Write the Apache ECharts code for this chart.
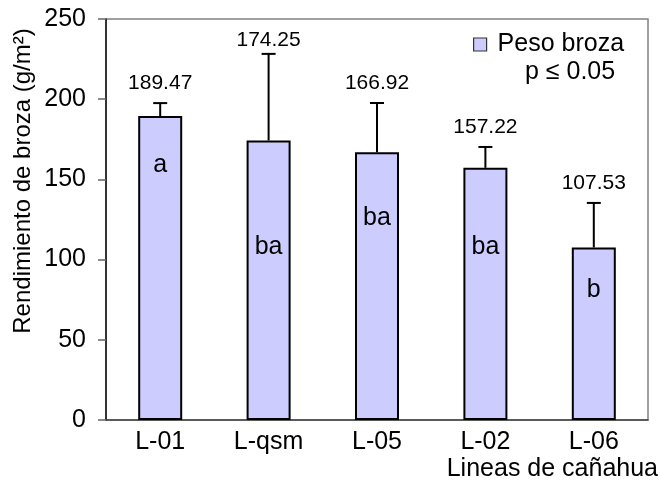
<!DOCTYPE html>
<html>
<head>
<meta charset="utf-8">
<script src="https://cdn.jsdelivr.net/npm/echarts@6/dist/echarts.min.js"></script>
<style>
  html, body { margin: 0; padding: 0; background: #fff; }
  #chart { width: 662px; height: 490px; }
</style>
</head>
<body>
<div id="chart"></div>
<script>
// datos
const lineas = ['L-01', 'L-qsm', 'L-05', 'L-02', 'L-06'];
const pesoBroza = [189.47, 174.25, 166.92, 157.22, 107.53];
const errorSup = [8.1, 54.0, 30.7, 13.0, 27.8];
const letras = ['a', 'ba', 'ba', 'ba', 'b'];
const letraNivel = [159, 108, 126, 108, 81]; // altura (g/m²) donde va la letra
const yTicks = [0, 50, 100, 150, 200, 250];

const FONT = '"Liberation Sans", Arial, sans-serif';

const chart = echarts.init(document.getElementById('chart'));

const option = {
  animation: false,
  backgroundColor: '#fff',
  grid: {
    left: 106, right: 14, top: 19, bottom: 70,
    show: true, borderColor: '#808080', borderWidth: 1.5
  },
  legend: {
    data: ['Peso broza'],
    left: 473, top: 32, padding: 0,
    icon: 'rect', itemWidth: 13, itemHeight: 13,
    itemStyle: { borderColor: '#333', borderWidth: 1.2 },
    textStyle: { fontFamily: FONT, fontSize: 25, color: '#000', padding: [0, 0, 0, 6] }
  },
  xAxis: {
    type: 'category',
    data: lineas,
    axisLine: { lineStyle: { color: '#444', width: 1.5 } },
    axisTick: { length: 7, lineStyle: { color: '#666', width: 1.5 } },
    axisLabel: { fontFamily: FONT, fontSize: 25, color: '#000', margin: 10 }
  },
  yAxis: {
    type: 'value',
    min: yTicks[0], max: yTicks[yTicks.length - 1], interval: 50,
    axisLine: { show: true, lineStyle: { color: '#111', width: 1.5 } },
    axisTick: { show: true, length: 8, lineStyle: { color: '#666', width: 1.5 } },
    axisLabel: { fontFamily: FONT, fontSize: 25, color: '#000', margin: 20 },
    splitLine: { show: false }
  },
  graphic: [
    {
      type: 'text', x: 23, y: 181, rotation: Math.PI / 2,
      style: { text: 'Rendimiento de broza (g/m²)', font: '24px ' + FONT, fill: '#000', textAlign: 'center', textVerticalAlign: 'middle' }
    },
    {
      type: 'text', x: 658, y: 469,
      style: { text: 'Lineas de cañahua', font: '25px ' + FONT, fill: '#000', textAlign: 'right', textVerticalAlign: 'middle' }
    },
    {
      type: 'text', x: 525, y: 72,
      style: { text: 'p ≤ 0.05', font: '25px ' + FONT, fill: '#000', textAlign: 'left', textVerticalAlign: 'middle' }
    }
  ],
  series: [
    {
      name: 'Peso broza',
      type: 'bar',
      data: pesoBroza,
      barWidth: 44,
      itemStyle: { color: '#ccccff', borderColor: '#000', borderWidth: 2 }
    },
    {
      name: 'error',
      type: 'custom',
      data: pesoBroza.map((v, i) => [i, v, errorSup[i]]),
      z: 3,
      renderItem: (params, api) => {
        const i = api.value(0);
        const media = api.value(1);
        const sup = api.value(2);
        const p0 = api.coord([i, media]);
        const p1 = api.coord([i, media + sup]);
        const labelY = Math.max(p1[1] - 20, 40);
        return {
          type: 'group',
          children: [
            { type: 'line', shape: { x1: p0[0], y1: p0[1], x2: p1[0], y2: p1[1] }, style: { stroke: '#000', lineWidth: 2 } },
            { type: 'line', shape: { x1: p1[0] - 7, y1: p1[1], x2: p1[0] + 7, y2: p1[1] }, style: { stroke: '#000', lineWidth: 2 } },
            { type: 'text', x: p1[0], y: labelY, style: { text: media.toFixed(2), font: '21px ' + FONT, fill: '#000', textAlign: 'center', textVerticalAlign: 'middle' } }
          ]
        };
      }
    },
    {
      name: 'letras',
      type: 'custom',
      data: letraNivel.map((v, i) => [i, v]),
      z: 4,
      renderItem: (params, api) => {
        const p = api.coord([api.value(0), api.value(1)]);
        return {
          type: 'text', x: p[0], y: p[1],
          style: { text: letras[params.dataIndex], font: '25px ' + FONT, fill: '#000', textAlign: 'center', textVerticalAlign: 'middle' }
        };
      }
    }
  ]
};

chart.setOption(option);
</script>
</body>
</html>
